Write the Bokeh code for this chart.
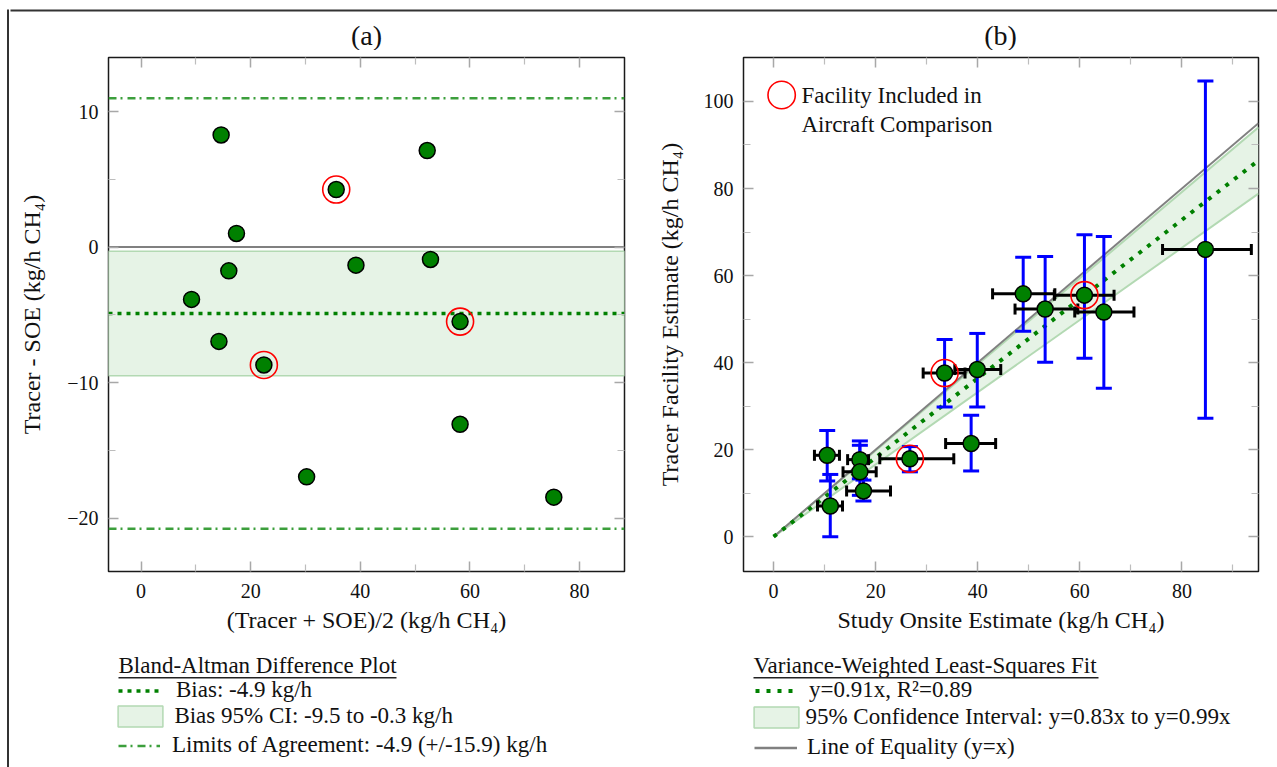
import math
import numpy as np
from bokeh.plotting import figure
from bokeh.models import (Range1d, FixedTicker, LinearAxis, Span, BoxAnnotation,
                          Label, Legend, LegendItem, ColumnDataSource)
from bokeh.layouts import row, column
from bokeh.embed import file_html
from bokeh.resources import INLINE

FONT = "Liberation Serif"

# ---------------- Panel (a): Bland-Altman difference plot ----------------
ba_mean = [14.6, 35.6, 17.4, 16.0, 9.2, 52.2, 39.2, 52.8, 58.2, 14.2, 22.4, 58.2, 30.2, 75.3]
ba_diff = [8.28, 4.25, 1.01, -1.75, -3.86, 7.13, -1.33, -0.91, -5.5, -6.96, -8.70, -13.08, -16.96, -18.46]
ba_aircraft = [0, 1, 0, 0, 0, 0, 0, 0, 1, 0, 1, 0, 0, 0]
BIAS = -4.9
BIAS_CI = (-9.5, -0.3)
LOA_HALF = 15.9
XA = (-5.95, 88.2)
YA = (-23.95, 14.0)
xa_major = [0, 20, 40, 60, 80]
xa_minor = [10, 30, 50, 70]
ya_major = [-20, -10, 0, 10]
ya_minor = [-15, -5, 5]
ya_labels = {-20: "\u221220", -10: "\u221210", 0: "0", 10: "10"}

# ---------------- Panel (b): tracer vs study onsite estimate ----------------
soe = [10.5, 11.1, 16.9, 16.9, 17.6, 26.7, 33.5, 39.9, 38.7, 48.9, 53.2, 60.9, 64.7, 84.6]
soe_lo = [8.0, 8.6, 14.5, 13.6, 14.3, 20.8, 29.3, 35.5, 33.7, 42.9, 47.3, 55.0, 59.0, 76.2]
soe_hi = [12.9, 13.5, 18.6, 20.1, 22.9, 35.3, 37.5, 44.5, 43.5, 55.1, 59.6, 66.7, 70.6, 93.6]
tracer = [18.7, 7.05, 17.7, 14.9, 10.5, 17.9, 37.6, 38.4, 21.4, 55.8, 52.3, 55.5, 51.6, 66.0]
tracer_lo = [12.8, 0.0, 13.3, 9.5, 8.2, 14.9, 29.8, 29.8, 15.1, 47.2, 40.1, 41.0, 34.1, 27.2]
tracer_hi = [24.4, 14.3, 22.0, 21.0, 13.0, 20.7, 45.3, 46.7, 27.9, 64.2, 64.4, 69.4, 69.0, 104.7]
b_aircraft = [0, 0, 0, 0, 0, 1, 1, 0, 0, 0, 0, 1, 0, 0]
FIT_SLOPE = 0.91
FIT_R2 = 0.89
CI_SLOPES = (0.83, 0.99)
XB = (-5.9, 95.0)
YB = (-8.0, 110.1)
xb_major = [0, 20, 40, 60, 80]
xb_minor = [10, 30, 50, 70, 90]
yb_major = [0, 20, 40, 60, 80, 100]
yb_minor = [10, 30, 50, 70, 90]

# ---------------- styles ----------------
DARK_GREEN = "#008000"
BAND_FILL = "#e6f3e6"
BAND_EDGE = "#b3d9b3"
LOA_GREEN = "#3c9f3c"
GRAY = "#808080"
TICK = "#a8a8a8"
TICK_MINOR = "#bdbdbd"
TXT = "#111111"
BORDER = "#333333"

PAGE_W, PAGE_H = 1277, 767
LEFT_W = 10           # strip holding the outer left border
TOP_H = 50            # strip holding the titles and outer top border
PLOT_H = 600
LEG_H = PAGE_H - TOP_H - PLOT_H
A_W = 624
B_W = PAGE_W - LEFT_W - A_W

NAN1 = np.array([np.nan])   # legend-key renderers: one undrawable row


def blank_fig(width, height):
    p = figure(width=width, height=height, x_range=Range1d(0, 1), y_range=Range1d(0, 1),
               output_backend="svg", toolbar_location=None, tools="",
               x_axis_location=None, y_axis_location=None, min_border=0)
    p.grid.visible = False
    p.outline_line_color = None
    p.background_fill_color = "white"
    p.border_fill_color = "white"
    return p


def make_fig(width, bl, br, xr, yr):
    p = figure(width=width, height=PLOT_H, x_range=Range1d(*xr), y_range=Range1d(*yr),
               output_backend="svg", toolbar_location=None, tools="",
               min_border_left=bl, min_border_right=br, min_border_top=7,
               min_border_bottom=PLOT_H - 7 - 514)
    p.grid.visible = False
    p.outline_line_color = "#1a1a1a"
    p.outline_line_width = 1.5
    p.background_fill_color = "white"
    p.border_fill_color = "white"
    return p


def tick_style(ax, major, minor):
    ax.ticker = FixedTicker(ticks=major, minor_ticks=minor)
    ax.axis_line_color = None
    ax.major_tick_in = 10
    ax.major_tick_out = 0
    ax.minor_tick_in = 7
    ax.minor_tick_out = 0
    ax.major_tick_line_color = TICK
    ax.major_tick_line_width = 1.5
    ax.minor_tick_line_color = TICK_MINOR
    ax.minor_tick_line_width = 1.2


def label_style(ax, overrides, standoff):
    ax.major_label_overrides = overrides
    ax.major_label_text_font = FONT
    ax.major_label_text_font_size = "20px"
    ax.major_label_text_color = TXT
    ax.major_label_standoff = standoff
    ax.axis_label_text_font = FONT
    ax.axis_label_text_font_size = "24px"
    ax.axis_label_text_font_style = "normal"
    ax.axis_label_text_color = TXT


def setup_axes(p, xmaj, xmin, ymaj, ymin, ylab_over, xlabel, ylabel, y_standoff):
    xa = p.xaxis[0]
    ya = p.yaxis[0]
    tick_style(xa, xmaj, xmin)
    tick_style(ya, ymaj, ymin)
    label_style(xa, {v: str(v) for v in xmaj}, 12)
    label_style(ya, ylab_over, 10)
    xa.axis_label = xlabel
    xa.axis_label_standoff = 6
    ya.axis_label = ylabel
    ya.axis_label_standoff = y_standoff
    top = LinearAxis()
    tick_style(top, xmaj, xmin)
    top.major_label_overrides = {v: "" for v in xmaj}
    top.major_label_text_font_size = "0px"
    top.major_label_standoff = 0
    p.add_layout(top, "above")
    right = LinearAxis()
    tick_style(right, ymaj, ymin)
    right.major_label_overrides = {v: "" for v in ymaj}
    right.major_label_text_font_size = "0px"
    right.major_label_standoff = 0
    p.add_layout(right, "right")


def scr_box(p, left, right, bottom, top, color, level="overlay", **kw):
    b = BoxAnnotation(left=left, right=right, bottom=bottom, top=top,
                      left_units="screen", right_units="screen",
                      bottom_units="screen", top_units="screen",
                      fill_color=color, fill_alpha=1 if color else 0,
                      line_color=kw.pop("line_color", None), line_alpha=1,
                      level=level, **kw)
    p.add_layout(b)
    return b


def scr_label(p, x, y, text, size, align="left"):
    p.add_layout(Label(x=x, y=y, x_units="screen", y_units="screen", text=text,
                       text_font=FONT, text_font_size=size, text_color=TXT,
                       text_align=align, text_baseline="middle"))


def add_legend(p, renderer, label, vx, cy_page, gw, gh, standoff):
    # cy_page: vertical centre of the entry in page pixels
    H = 27
    leg = Legend(items=[LegendItem(label=label, renderers=[renderer])],
                 location=(vx, PAGE_H - (cy_page + H / 2)),
                 glyph_width=gw, glyph_height=gh, label_height=H,
                 label_standoff=standoff, padding=0, margin=0, spacing=0,
                 border_line_color=None, background_fill_alpha=0,
                 label_text_font=FONT, label_text_font_size="23px",
                 label_text_color=TXT)
    p.add_layout(leg)


def key_line(p, **kw):
    return p.line(x=NAN1, y=NAN1, **kw)


def key_box(p, **kw):
    return p.quad(left=NAN1, right=NAN1, top=NAN1, bottom=NAN1, **kw)


# ======================= outer strips =======================
left_strip = blank_fig(LEFT_W, PAGE_H)
scr_box(left_strip, 6.5, 8.5, 0, PAGE_H - 9, BORDER)

top_strip = blank_fig(PAGE_W - LEFT_W, TOP_H)
scr_box(top_strip, -2, PAGE_W, TOP_H - 11, TOP_H - 9, BORDER)
scr_label(top_strip, 366 - LEFT_W, TOP_H - 35, "(a)", "28px", align="center")
scr_label(top_strip, 1000 - LEFT_W, TOP_H - 35, "(b)", "28px", align="center")

# ======================= Panel (a) =======================
pa = make_fig(A_W, 98, 10, XA, YA)
setup_axes(pa, xa_major, xa_minor, ya_major, ya_minor, ya_labels,
           "(Tracer + SOE)/2 (kg/h CH\u2084)", "Tracer - SOE (kg/h CH\u2084)", 19)

pa.add_layout(BoxAnnotation(bottom=BIAS_CI[0], top=BIAS_CI[1], fill_color=BAND_FILL,
                            fill_alpha=1, line_color=BAND_EDGE, line_alpha=1,
                            line_width=1.5, level="underlay"))
pa.add_layout(Span(location=0, dimension="width", line_color=GRAY, line_width=2,
                   level="underlay"))
pa.add_layout(Span(location=BIAS, dimension="width", line_color=DARK_GREEN,
                   line_width=3.5, line_dash="4 5", level="underlay"))
for loa in (BIAS + LOA_HALF, BIAS - LOA_HALF):
    pa.add_layout(Span(location=loa, dimension="width", line_color=LOA_GREEN,
                       line_width=2.5, line_dash="8 4 2 5", level="underlay"))

src_a = ColumnDataSource(dict(x=ba_mean, y=ba_diff))
pa.scatter("x", "y", source=src_a, size=16, fill_color=DARK_GREEN, line_color="black",
           line_width=1.5)
ring_a = ColumnDataSource(dict(x=[m for m, f in zip(ba_mean, ba_aircraft) if f],
                               y=[d for d, f in zip(ba_diff, ba_aircraft) if f]))
pa.scatter("x", "y", source=ring_a, size=27, fill_color=None, line_color="red",
           line_width=1.6)

# ======================= Panel (b) =======================
pb = make_fig(B_W, 109, 19, XB, YB)
setup_axes(pb, xb_major, xb_minor, yb_major, yb_minor, {v: str(v) for v in yb_major},
           "Study Onsite Estimate (kg/h CH\u2084)", "Tracer Facility Estimate (kg/h CH\u2084)", 18)

line_x = [0.0, XB[1]]
src_fit = ColumnDataSource(dict(
    x=line_x,
    fit=[FIT_SLOPE * v for v in line_x],
    lo=[CI_SLOPES[0] * v for v in line_x],
    hi=[CI_SLOPES[1] * v for v in line_x],
))
pb.varea(x="x", y1="lo", y2="hi", source=src_fit, fill_color=BAND_FILL)
pb.line("x", "lo", source=src_fit, line_color=BAND_EDGE, line_width=2)
pb.line("x", "hi", source=src_fit, line_color=BAND_EDGE, line_width=2)
pb.line("x", "x", source=src_fit, line_color=GRAY, line_width=2)
pb.line("x", "fit", source=src_fit, line_color=DARK_GREEN, line_width=4, line_dash="4 7")

src_b = ColumnDataSource(dict(x=soe, xlo=soe_lo, xhi=soe_hi,
                              y=tracer, ylo=tracer_lo, yhi=tracer_hi))
pb.segment(x0="x", y0="ylo", x1="x", y1="yhi", source=src_b, line_color="blue", line_width=3)
pb.scatter("x", "ylo", source=src_b, marker="dash", size=16, line_color="blue", line_width=3)
pb.scatter("x", "yhi", source=src_b, marker="dash", size=16, line_color="blue", line_width=3)
pb.segment(x0="xlo", y0="y", x1="xhi", y1="y", source=src_b, line_color="black", line_width=3)
pb.scatter("xlo", "y", source=src_b, marker="dash", angle=math.pi / 2, size=11,
           line_color="black", line_width=3)
pb.scatter("xhi", "y", source=src_b, marker="dash", angle=math.pi / 2, size=11,
           line_color="black", line_width=3)
pb.scatter("x", "y", source=src_b, size=16, fill_color=DARK_GREEN, line_color="black",
           line_width=1.5)
ring_b = ColumnDataSource(dict(x=[s for s, f in zip(soe, b_aircraft) if f],
                               y=[t for t, f in zip(tracer, b_aircraft) if f]))
pb.scatter("x", "y", source=ring_b, size=27, fill_color=None, line_color="red",
           line_width=1.6)

# inset key for the red rings (frame bottom is at page y 571, left at page x 743)
FB = 571
scr_box(pb, 24.5, 51.8, FB - 108.3, FB - 80.7, None,
        line_color="red", line_width=1.6, border_radius=14)
scr_label(pb, 58, FB - 95, "Facility Included in", "23px")
scr_label(pb, 58, FB - 123.5, "Aircraft Comparison", "23px")

# ======================= legend strips =======================
la = blank_fig(A_W, LEG_H)
la1 = key_line(la, line_color=DARK_GREEN, line_width=3.5, line_dash="4 5")
la2 = key_box(la, fill_color=BAND_FILL, line_color=BAND_EDGE, line_width=1.5)
la3 = key_line(la, line_color=LOA_GREEN, line_width=2.5, line_dash="8 4 2 5")
ox = LEFT_W
scr_label(la, 118 - ox, PAGE_H - 665, "Bland-Altman Difference Plot", "23px")
scr_box(la, 118 - ox, 396 - ox, PAGE_H - 678, PAGE_H - 676.5, "#222222")
add_legend(la, la1, f"Bias: {BIAS} kg/h", 118 - ox, 690, 42, 27, 16)
add_legend(la, la2, f"Bias 95% CI: {BIAS_CI[0]} to {BIAS_CI[1]} kg/h", 112.4 - ox, 716, 56, 26, 6)
add_legend(la, la3, f"Limits of Agreement: {BIAS} (+/-{LOA_HALF}) kg/h", 118 - ox, 745, 42, 27, 12)

lb = blank_fig(B_W, LEG_H)
lb1 = key_line(lb, line_color=DARK_GREEN, line_width=4, line_dash="4 7")
lb2 = key_box(lb, fill_color=BAND_FILL, line_color=BAND_EDGE, line_width=1.5)
lb3 = key_line(lb, line_color=GRAY, line_width=2.5)
ox = LEFT_W + A_W
scr_label(lb, 753 - ox, PAGE_H - 665, "Variance-Weighted Least-Squares Fit", "23px")
scr_box(lb, 753 - ox, 1098 - ox, PAGE_H - 678, PAGE_H - 676.5, "#222222")
add_legend(lb, lb1, f"y={FIT_SLOPE}x, R\u00b2={FIT_R2}", 755 - ox, 690, 42, 27, 12)
add_legend(lb, lb2, f"95% Confidence Interval: y={CI_SLOPES[0]}x to y={CI_SLOPES[1]}x",
           748.4 - ox, 716.5, 56, 26, 1)
add_legend(lb, lb3, "Line of Equality (y=x)", 754 - ox, 747, 43, 27, 10)

layout = row(left_strip,
             column(top_strip, row(pa, pb, spacing=0), row(la, lb, spacing=0), spacing=0),
             spacing=0)
open("out.html", "w").write(file_html(layout, INLINE))
